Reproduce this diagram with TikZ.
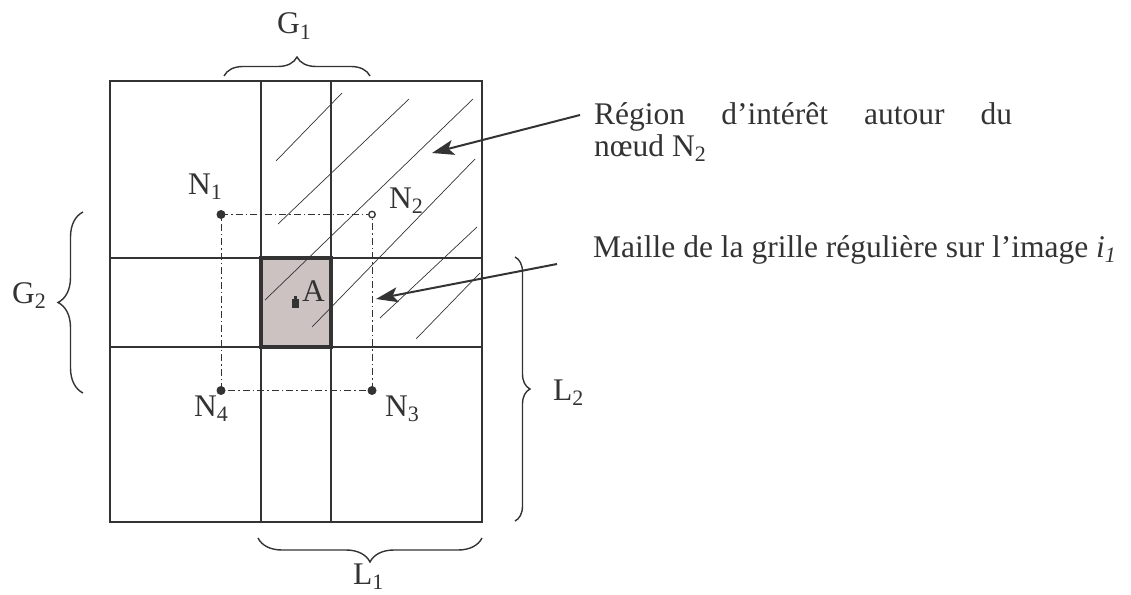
\documentclass[tikz,border=0pt]{standalone}
\usepackage{fontspec}
\setmainfont{Liberation Serif}
\usetikzlibrary{arrows.meta,decorations.pathreplacing}
\definecolor{lc}{HTML}{333333}
\definecolor{cellc}{RGB}{204,194,194}
\newcommand\lblfont{\fontsize{31.5}{32}\selectfont}
\newcommand\sbs[1]{\raisebox{-0.16em}{\fontsize{22}{22}\selectfont #1}}
\begin{document}
\begin{tikzpicture}[x=1pt,y=-1pt,
  lbl/.style={inner sep=0pt, font=\lblfont, anchor=base west, text=lc},
  gridline/.style={draw=lc, line width=2pt},
  cellborder/.style={draw=lc, line width=3.2pt},
  hatch/.style={draw=lc, line width=0.7pt},
  dashdot/.style={draw=lc, line width=0.9pt, dash pattern=on 7pt off 3pt on 1.5pt off 3pt},
  bracestyle/.style={draw=lc, line width=1.4pt, decorate, decoration={brace, amplitude=#1}},
  pointer/.style={draw=lc, line width=2pt, -{Stealth[length=22pt,width=15pt,inset=5pt]}},
  dotf/.style={circle, fill=lc, minimum size=9pt, inner sep=0pt},
  doto/.style={circle, draw=lc, fill=white, line width=1.3pt, minimum size=6.5pt, inner sep=0pt}
]
\useasboundingbox (0,0) rectangle (1131,594);
% shaded cell fill
\fill[cellc] (261,258) rectangle (331,347);
% hatch lines
\draw[hatch] (276,161) -- (342,93);
\draw[hatch] (278,224) -- (409,99);
\draw[hatch] (265,300) -- (473,99);
\draw[hatch] (312,327) -- (475,159);
\draw[hatch] (380,318) -- (477,227);
\draw[hatch] (416,339) -- (480,273);
% grid
\draw[gridline] (110,81) rectangle (482,522);
\draw[gridline] (261,81) -- (261,522);
\draw[gridline] (331,81) -- (331,522);
\draw[gridline] (110,258) -- (482,258);
\draw[gridline] (110,347) -- (482,347);
\draw[cellborder] (261,258) rectangle (331,347);
% dash-dot square between nodes
\coordinate (p1) at (221,214.5);
\coordinate (p2) at (372,214.5);
\coordinate (p3) at (372,390.5);
\coordinate (p4) at (221,390.5);
\draw[dashdot] (p1) -- (p2) -- (p3) -- (p4) -- cycle;
\node[dotf] (n1) at (p1) {};
\node[doto] (n2) at (p2) {};
\node[dotf] (n3) at (p3) {};
\node[dotf] (n4) at (p4) {};
% point A
\fill[lc] (291.5,299) rectangle (298.5,308);
\fill[lc] (293.5,295.5) rectangle (296.5,300);
\node[lbl] (la) at (302,301) {A};
% labels
\node[lbl] (ln1) at (188,194) {N\sbs{1}};
\node[lbl] (ln2) at (389,208) {N\sbs{2}};
\node[lbl] (ln3) at (385,416) {N\sbs{3}};
\node[lbl] (ln4) at (194,416) {N\sbs{4}};
\node[lbl] (lg1) at (277,34) {G\sbs{1}};
\node[lbl] (lg2) at (12,303) {G\sbs{2}};
\node[lbl] (ll1) at (353,584) {L\sbs{1}};
\node[lbl] (ll2) at (553,400) {L\sbs{2}};
% braces
\draw[bracestyle=19] (224,76) -- (370,76);
\draw[bracestyle=25] (83,393) -- (83,212);
\draw[bracestyle=15] (515,257) -- (515,521);
\draw[bracestyle=24] (482,538) -- (258,538);
% texts
\node[lbl] (t1) at (594,124) {\makebox[418pt][s]{Région d’intérêt autour du}};
\node[lbl] (t2) at (594,156) {nœud N\sbs{2}};
\node[lbl] (t3) at (593,257) {Maille de la grille régulière sur l’image \textit{i\sbs{1}}};
% arrows
\coordinate (r1) at (580,115);
\coordinate (r1tip) at (432,153);
\coordinate (r2) at (557,264);
\coordinate (r2tip) at (376,299);
\draw[pointer] (r1) -- (r1tip);
\draw[pointer] (r2) -- (r2tip);
\end{tikzpicture}
\end{document}
